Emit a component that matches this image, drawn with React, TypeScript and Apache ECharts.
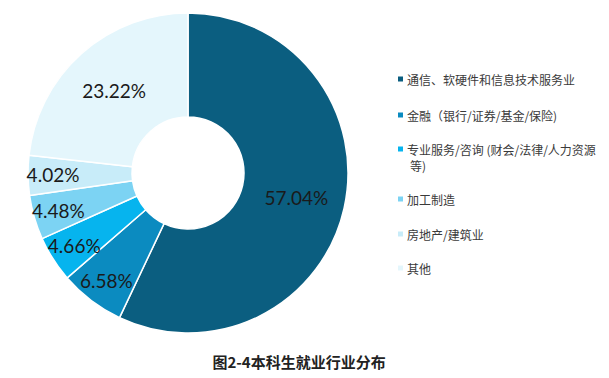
import React, { useEffect, useRef } from "react";
import * as echarts from "echarts";

const categories = [
  "通信、软硬件和信息技术服务业",
  "金融（银行/证券/基金/保险)",
  "专业服务/咨询 (财会/法律/人力资源",
  "加工制造",
  "房地产/建筑业",
  "其他",
];
const legendContinuation = ["", "", "等)", "", "", ""];
const values = [57.04, 6.58, 4.66, 4.48, 4.02, 23.22];
const colors = ["#0b5e80", "#0b8bc0", "#06b4ee", "#7cd3f3", "#c8ecf9", "#e4f6fc"];
const title = "图2-4本科生就业行业分布";

const legendCenters = [80, 116, 150, 200, 235, 269];
const SMALL = 10;

export default function App() {
  const ref = useRef<HTMLDivElement>(null);
  useEffect(() => {
    if (!ref.current) return;
    const chart = echarts.init(ref.current, undefined, { renderer: "svg" });
    const legends = categories.map((name, i) => ({
      data: [name],
      orient: "vertical",
      left: 396,
      top: legendCenters[i] - 7,
      icon: "rect",
      itemWidth: 7,
      itemHeight: 7,
      itemGap: 0,
      padding: 0,
      selectedMode: false,
      textStyle: {
        fontFamily: "Noto Sans CJK SC",
        fontSize: 12,
        color: "#3a3a3a",
        padding: [0, 0, 0, -2],
      },
    }));
    const graphics = legendContinuation
      .map((t, i) =>
        t
          ? {
              type: "text",
              left: 410,
              top: legendCenters[i] + 9,
              style: {
                text: t,
                fontFamily: "Noto Sans CJK SC",
                fontSize: 12,
                fill: "#3a3a3a",
              },
            }
          : null
      )
      .filter(Boolean);
    const labelBase = {
      position: "inside",
      formatter: (p: any) => p.value.toFixed(2) + "%",
      fontFamily: "Lato",
      fontSize: 19,
      color: "#1a1a1a",
    };
    chart.setOption({
      animation: false,
      backgroundColor: "#ffffff",
      title: {
        text: title,
        left: 299,
        top: 354,
        textAlign: "center",
        padding: 0,
        textStyle: {
          fontFamily: "Noto Sans CJK SC",
          fontSize: 15,
          fontWeight: "bold",
          color: "#222222",
        },
      },
      legend: legends,
      graphic: graphics,
      series: [
        {
          type: "pie",
          center: [188, 173],
          radius: [56, 160],
          startAngle: 90,
          clockwise: true,
          avoidLabelOverlap: false,
          itemStyle: { borderColor: "#ffffff", borderWidth: 1.5 },
          label: { show: true, ...labelBase, padding: [14, 0, 0, 0] },
          labelLine: { show: false },
          emphasis: { disabled: true },
          data: categories.map((name, i) => ({
            name,
            value: values[i],
            itemStyle: { color: colors[i] },
            label: { show: values[i] > SMALL },
          })),
        },
        {
          type: "pie",
          center: [188, 173],
          radius: [104, 160],
          startAngle: 90,
          clockwise: true,
          silent: true,
          avoidLabelOverlap: false,
          legendHoverLink: false,
          itemStyle: { color: "rgba(0,0,0,0)", borderWidth: 0 },
          label: { show: true, ...labelBase, padding: [10, 0, 0, 0] },
          labelLine: { show: false },
          emphasis: { disabled: true },
          data: categories.map((name, i) => ({
            name: name + " ",
            value: values[i],
            label: { show: values[i] <= SMALL },
          })),
        },
      ],
    });
    return () => chart.dispose();
  }, []);
  return <div ref={ref} style={{ width: 609, height: 378, margin: -8 }} />;
}
